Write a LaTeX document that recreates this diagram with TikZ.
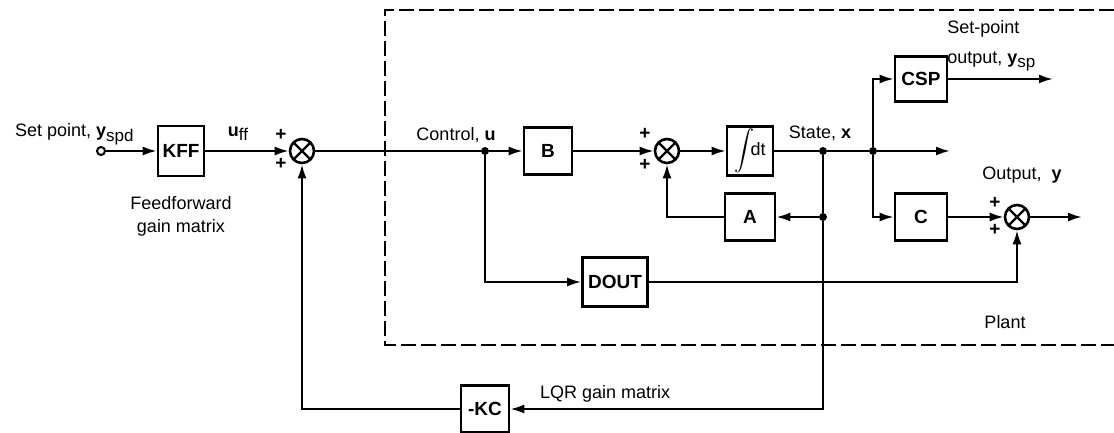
\documentclass[tikz,border=0pt]{standalone}
\usepackage{fontspec}
\setmainfont{Liberation Sans}
\usetikzlibrary{arrows.meta}

\newcommand{\lowsub}[1]{\raisebox{-0.45ex}{\fontsize{8.5}{9}\selectfont #1}}

\begin{document}
\begin{tikzpicture}[
    x=0.5pt, y=-0.5pt,
    every node/.style={font=\fontsize{9}{11}\selectfont},
    box/.style={rectangle, draw, line width=1.3pt, minimum width=24pt, minimum height=23.5pt, inner sep=1pt, font=\fontsize{9.5}{11}\selectfont\bfseries},
    sum/.style={circle, draw, line width=1.3pt, minimum size=12pt, inner sep=0pt,
        path picture={\draw[line width=1.1pt]
            ([shift={(45:6pt)}]path picture bounding box.center) -- ([shift={(225:6pt)}]path picture bounding box.center)
            ([shift={(135:6pt)}]path picture bounding box.center) -- ([shift={(315:6pt)}]path picture bounding box.center);}},
    dot/.style={circle, fill, minimum size=4pt, inner sep=0pt},
    arrow/.style={-{Latex[length=7pt, width=4.5pt]}, line width=1.1pt},
    line/.style={line width=1.1pt},
    sign/.style={font=\fontsize{9.5}{9.5}\selectfont\bfseries, inner sep=0pt},
    plant/.style={line width=1.2pt, dash pattern=on 7.5pt off 2.5pt}
]
\useasboundingbox (0,0) rectangle (1114,433);

% ============ PLANT FRAME ============
\draw[plant] (1114,10) -- (385,10) -- (385,345) -- (1114,345);
\node (plantlabel) at (1005,322) {Plant};

% ============ FEEDFORWARD ============
\node[circle, draw, line width=1pt, minimum size=4pt, inner sep=0pt] (setpt) at (101,151) {};
\node[anchor=base west] (splabel) at (8,137) {Set point, \textbf{y}\lowsub{spd}};
\node[box, minimum width=23pt, minimum height=25pt] (kff) at (181,151) {KFF};
\node[align=center, font=\fontsize{9}{11.5}\selectfont] (fflabel) at (181,216) {Feedforward\\gain matrix};
\node (ufflabel) at (238,134) {\textbf{u}\lowsub{ff}};

\node[sum] (sum1) at (302,151) {};
\node[sign] at (281,135) {+};
\node[sign] at (281,164) {+};

% ============ PLANT BLOCKS ============
\node[dot] (ujunc) at (485,151) {};
\node (ulabel) at (456,135) {Control, \textbf{u}};
\node[box] (bmat) at (548,151) {B};

\node[sum] (sum2) at (667,151) {};
\node[sign] at (645,134) {+};
\node[sign] at (645,165) {+};

\node[box, minimum width=23pt, font=\fontsize{9}{11}\selectfont] (intg) at (750,151) {$\displaystyle\int$\kern-2pt dt};
\node[box, minimum width=25pt] (amat) at (750,217) {A};
\node[box, minimum width=32.5pt, minimum height=24.5pt] (dout) at (615,282) {DOUT};

\node[dot] (xjunc) at (823,151) {};
\node[dot] (ajunc) at (823,217) {};
\node (xlabel) at (820,133) {State, \textbf{x}};
\node[dot] (x2junc) at (873,151) {};
\coordinate (xout) at (950,151);

\node[box, minimum width=26pt, minimum height=22.5pt] (csp) at (921,79) {CSP};
\coordinate (yspout) at (1053,79);
\node[align=left, anchor=north west, inner sep=0pt, font=\fontsize{9}{15}\selectfont] (ysplabel) at (947,20) {Set-point\\output, \textbf{y}\lowsub{sp}};

\node[box, minimum width=26pt] (cmat) at (921,217) {C};
\node[sum] (sum3) at (1017,217) {};
\node[sign] at (995,203) {+};
\node[sign] at (995,230) {+};
\coordinate (yout) at (1082,217);
\node (ylabel) at (1022,175) {Output,\ \ \textbf{y}};

% ============ FEEDBACK ============
\node[box] (kc) at (485,409) {-KC};
\node[anchor=west] (lqrlabel) at (533,394) {LQR gain matrix};

% ============ CONNECTIONS ============
\draw[arrow] (setpt) -- (kff);
\draw[arrow] (kff) -- (sum1);
\draw[line] (sum1) -- (ujunc);
\draw[arrow] (ujunc) -- (bmat);
\draw[arrow] (bmat) -- (sum2);
\draw[arrow] (sum2) -- (intg);
\draw[line] (intg) -- (xjunc) -- (x2junc);
\draw[arrow] (x2junc) -- (xout);
\draw[arrow] (x2junc) |- (csp);
\draw[arrow] (x2junc) |- (cmat);
\draw[arrow] (csp) -- (yspout);
\draw[arrow] (cmat) -- (sum3);
\draw[arrow] (sum3) -- (yout);
\draw[line] (xjunc) -- (ajunc);
\draw[arrow] (ajunc) -- (amat);
\draw[arrow] (amat) -| (sum2);
\draw[arrow] (ujunc) |- (dout);
\draw[arrow] (dout) -| (sum3);
\draw[arrow] (ajunc) |- (kc);
\draw[arrow] (kc) -| (sum1);

\end{tikzpicture}
\end{document}
